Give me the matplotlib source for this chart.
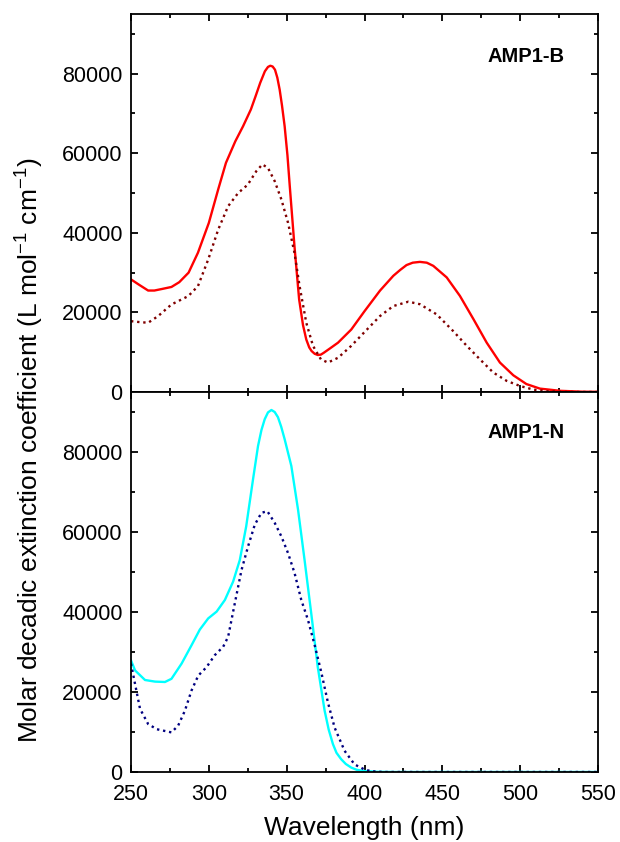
import matplotlib
matplotlib.use("Agg")
import matplotlib.pyplot as plt
from matplotlib.ticker import MultipleLocator

plt.rcParams['font.family'] = ['Liberation Sans', 'DejaVu Sans']
plt.rcParams['mathtext.default'] = 'regular'

# ---- data ----
b_solid_wl = [250, 255, 261, 265, 270, 276, 281, 287, 293, 300, 306, 311, 317, 322, 327,
              330, 333, 336, 338, 339.5, 341, 342.5, 344, 345.5, 347, 348.7, 350.5, 352, 355,
              358, 360.5, 362.6, 364.5, 366, 368, 370, 372, 374, 378, 383,
              391.5, 400, 410, 418.5, 423, 427, 431, 435.6, 440, 444.2, 452.8, 461.3, 470,
              478.5, 487, 495.6, 504, 512.7, 525.6, 540, 550]
b_solid_eps = [28300, 27000, 25500, 25500, 25900, 26400, 27600, 30000, 35000, 42500, 50900,
               57600, 63000, 66800, 71000, 74300, 77700, 80600, 81700, 82000, 81800, 81000,
               79000, 76000, 72000, 66800, 59500, 51700, 36700, 23300, 16800, 13200, 11200,
               10300, 9600, 9300, 9400, 9900, 11000, 12400, 15700, 20300, 25500, 29200, 30700,
               31900, 32500, 32700, 32500, 31700, 28800, 24150, 18300, 12400, 7400, 4200,
               2000, 850, 300, 80, 50]

b_dot_wl = [250, 254.7, 261, 267.5, 276, 286.8, 293, 299.6, 306, 312.4, 318.8, 325, 330.5,
            334.4, 338, 342.3, 346.6, 350.9, 355, 358.3, 362.6, 366.9, 372, 376.5, 383,
            391.5, 399.6, 410, 418.5, 428.2, 435.6, 446.4, 457, 465.7, 474.2, 482.7, 491.3,
            500, 508.5, 517, 530, 550]
b_dot_eps = [17800, 17600, 17400, 19100, 22000, 24100, 26600, 33300, 40800, 46700, 50000,
             52100, 55500, 57200, 56300, 53000, 48400, 42500, 35000, 26600, 17400, 11600,
             8200, 7400, 8600, 11600, 14900, 19100, 21600, 22700, 22060, 19500, 15300, 11600,
             8200, 4900, 2800, 1500, 600, 200, 0, 0]

n_solid_wl = [250, 252.6, 259, 265.4, 271.8, 276, 282.5, 288.9, 294.2, 299.6, 305, 310.3,
              315.6, 319.9, 324, 328.4, 331.6, 333.8, 335.9, 338, 340.2, 342.3, 344.4, 346.5,
              348.7, 353, 357.3, 361.5, 365.8, 370, 374.4, 377, 379.7, 382, 385, 388,
              391.5, 395, 399.6, 408.5, 420, 550]
n_solid_eps = [27900, 25400, 23000, 22600, 22500, 23300, 27100, 31700, 35600, 38400, 40100,
               43000, 47600, 53000, 61400, 73200, 81500, 85500, 88200, 89900, 90500, 90000,
               88700, 86300, 83200, 76500, 65600, 53000, 39600, 26200, 15300, 10600, 7000,
               4800, 3200, 2000, 1100, 550, 250, 50, 0, 0]

n_dot_wl = [250, 252.6, 255.8, 261, 266.5, 276, 280.3, 284.6, 288.9, 293.2, 298.5, 303.8,
            309.2, 312.4, 316.7, 321, 325.2, 329.5, 333.8, 337.6, 342.3, 346.6, 350.9, 355.1,
            359.4, 363.7, 368, 372.2, 376.5, 380.8, 387.2, 393.6, 399.6, 404, 412, 550]
n_dot_eps = [27100, 22000, 15800, 12000, 10700, 9900, 11600, 15300, 20400, 24100, 26200,
             29200, 31300, 33800, 42200, 50500, 56400, 61800, 64800, 65200, 62300, 58900,
             54700, 49700, 43000, 38000, 31700, 25000, 17400, 11100, 5300, 1900, 700, 200, 0, 0]

labels = ["AMP1-B", "AMP1-N"]
y_ticks = [0, 20000, 40000, 60000, 80000]
x_ticks = [250, 300, 350, 400, 450, 500, 550]

# ---- figure ----
fig = plt.figure(figsize=(6.2, 8.42), dpi=100)
L, R = 131 / 620, 598 / 620
top_y, mid_y, bot_y = 1 - 14 / 842, 1 - 392 / 842, 1 - 772 / 842
ax1 = fig.add_axes([L, mid_y, R - L, top_y - mid_y])
ax2 = fig.add_axes([L, bot_y, R - L, mid_y - bot_y], sharex=ax1)

ax1.plot(b_solid_wl, b_solid_eps, color='#ff0000', lw=1.7)
ax1.plot(b_dot_wl, b_dot_eps, color='#800000', lw=1.7, linestyle=(0, (1, 1.6)))
ax2.plot(n_solid_wl, n_solid_eps, color='#00ffff', lw=1.7)
ax2.plot(n_dot_wl, n_dot_eps, color='#000080', lw=1.7, linestyle=(0, (1, 1.6)))

for ax, lab, ty in [(ax1, labels[0], 1 - 56 / 842), (ax2, labels[1], 1 - 432.5 / 842)]:
    ax.set_xlim(250, 550)
    ax.set_ylim(0, 95000)
    ax.set_xticks(x_ticks)
    ax.set_yticks(y_ticks)
    ax.xaxis.set_minor_locator(MultipleLocator(25))
    ax.yaxis.set_minor_locator(MultipleLocator(10000))
    ax.tick_params(which='both', direction='in', top=True, right=True, width=1.3,
                   labelsize=15.5)
    ax.tick_params(which='major', length=5)
    ax.tick_params(which='minor', length=2.6)
    ax.tick_params(axis='y', pad=6)
    ax.tick_params(axis='x', pad=8.5)
    for s in ax.spines.values():
        s.set_linewidth(1.3)
    fig.text(565 / 620, ty, lab, ha='right', va='center', fontsize=14.5, fontweight='bold')

ax1.tick_params(labelbottom=False)
ax2.set_xlabel("Wavelength (nm)", fontsize=19, labelpad=8)

fig.text(30 / 620, 1 - 450 / 842,
         "Molar decadic extinction coefficient (L mol$^{-1}$ cm$^{-1}$)",
         rotation=90, ha='center', va='center', fontsize=19)

fig.savefig("out.png", dpi=100)
